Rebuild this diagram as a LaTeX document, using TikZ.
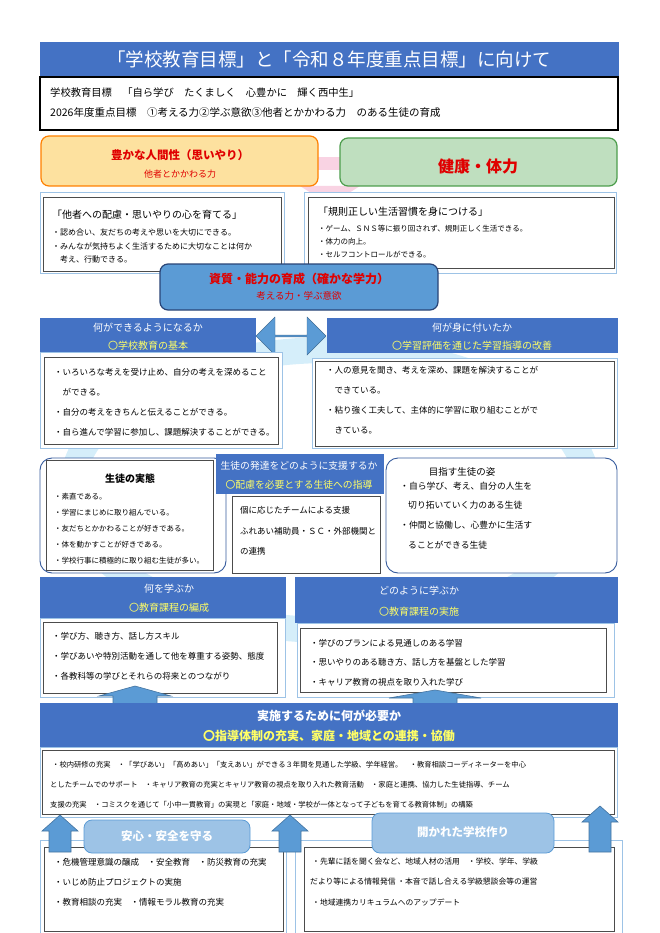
\documentclass[tikz,border=0pt]{standalone}
\usepackage{fontspec}
\setmainfont{Noto Sans CJK JP}
\usetikzlibrary{shapes.arrows}
\definecolor{hdrblue}{HTML}{4472C4}
\definecolor{midblue}{HTML}{5B9BD5}
\definecolor{paleblue}{HTML}{9DC3E6}
\definecolor{ringblue}{HTML}{D5EEFA}
\definecolor{goalyel}{HTML}{FFFF66}
\definecolor{redtxt}{HTML}{E00000}
\definecolor{pinkband}{HTML}{F9D3E3}
\tikzset{
  hdr/.style={fill=hdrblue, draw=hdrblue},
  frame/.style={draw=paleblue, line width=0.8pt, fill=white},
  inbox/.style={draw=black!70, line width=0.6pt, fill=white},
  line/.style={anchor=west, inner sep=0pt, font=\fontsize{#1}{#1}\selectfont},
  line/.default=8,
  wt/.style={text=white, inner sep=0pt, font=\fontsize{#1}{#1}\selectfont},
  yt/.style={text=goalyel, inner sep=0pt, font=\fontsize{#1}{#1}\selectfont},
  blockarrow/.style={fill=midblue, draw=midblue!75!black, line width=0.6pt},
}
% block arrow pointing up: centre x, tip y, base y, half head, half shaft, head length
\newcommand\upblock[6]{%
  \draw[blockarrow] (#1-#5,#3) -- (#1-#5,#2+#6) -- (#1-#4,#2+#6) -- (#1,#2)
    -- (#1+#4,#2+#6) -- (#1+#5,#2+#6) -- (#1+#5,#3) -- cycle;}
\begin{document}
\begin{tikzpicture}[x=1pt, y=-1pt]
\useasboundingbox (0,0) rectangle (660,933);
% background ring and bands
\draw[ringblue, line width=26pt] (330,490) ellipse (258 and 140);
\fill[pinkband] (280,157) rectangle (380,170);
\fill[pinkband] (300,186) -- (330,205) -- (360,186) -- cycle;
% title
\node[hdr, minimum width=578pt, minimum height=34pt, anchor=north west] (title) at (40,42) {};
\node[wt=18.5] (titletxt) at (329,59) {「学校教育目標」と「令和８年度重点目標」に向けて};
\draw[line width=1.6pt] (40,77) rectangle (618,130);
\node[line=10.3] (goal1) at (50,93) {学校教育目標\quad 「自ら学び\quad たくましく\quad 心豊かに\quad 輝く西中生」};
\node[line=10.5] (goal2) at (50,113) {2026年度重点目標\quad ①考える力②学ぶ意欲③他者とかかわる力\quad のある生徒の育成};
% two pillars
\draw[rounded corners=8pt, fill=yellow!40!orange!35, draw=orange, line width=1.2pt] (41,136) rectangle (318,186);
\node[text=redtxt, font=\fontsize{11.5}{11.5}\selectfont\bfseries] (humtitle) at (180,155) {豊かな人間性（思いやり）};
\node[text=redtxt, font=\fontsize{9}{9}\selectfont] (humsub) at (180,174) {他者とかかわる力};
\draw[rounded corners=8pt, fill=green!50!black!25, draw=green!45!black!70, line width=1.2pt] (340,138) rectangle (617,186);
\node[text=redtxt, font=\fontsize{16}{16}\selectfont\bfseries] (health) at (478,166) {健康・体力};
\draw[frame] (40,192) rectangle (284,273);
\draw[inbox] (43,197) rectangle (281,271);
\node[line=10] (humhead) at (52,215) {「他者への配慮・思いやりの心を育てる」};
\node[line=8] (hum1) at (52,232) {・認め合い、友だちの考えや思いを大切にできる。};
\node[line=8] (hum2) at (52,246) {・みんなが気持ちよく生活するために大切なことは何か};
\node[line=8] (hum3) at (52,259) {\quad 考え、行動できる。};
\draw[frame] (304,192) rectangle (616,273);
\draw[inbox] (308,197) rectangle (614,268);
\node[line=10] (heahead) at (318,212) {「規則正しい生活習慣を身につける」};
\node[line=7.5] (hea1) at (318,229) {・ゲーム、ＳＮＳ等に振り回されず、規則正しく生活できる。};
\node[line=7.5] (hea2) at (318,242) {・体力の向上。};
\node[line=7.5] (hea3) at (318,255) {・セルフコントロールができる。};
% central ability
\draw[rounded corners=8pt, fill=midblue, draw=hdrblue!60!black, line width=1.2pt] (160,264) rectangle (438,310);
\node[text=redtxt, font=\fontsize{12}{12}\selectfont\bfseries] (abtitle) at (299,279) {資質・能力の育成（確かな学力）};
\node[text=redtxt, font=\fontsize{9.5}{9.5}\selectfont] (absub) at (299,296) {考える力・学ぶ意欲};
% can do / learned
\node[hdr, minimum width=215pt, minimum height=34pt, anchor=north west] (canhdr) at (40,318) {};
\node[wt=10] (cantxt) at (148,328) {何ができるようになるか};
\node[yt=10] (canyel) at (148,346) {〇学校教育の基本};
\node[hdr, minimum width=290pt, minimum height=34pt, anchor=north west] (gothdr) at (327,318) {};
\node[wt=10] (gottxt) at (472,328) {何が身に付いたか};
\node[yt=10] (gotyel) at (472,346) {〇学習評価を通じた学習指導の改善};
\node[double arrow, fill=midblue, draw=midblue!70!black, minimum height=70pt, minimum width=38pt,
  double arrow head extend=4pt, inner sep=0pt] (linkarrow) at (291,336) {};
\draw[frame] (40,352) rectangle (282,448);
\draw[inbox] (44,357) rectangle (278,444);
\node[line=8.5] (can1) at (54,372) {・いろいろな考えを受け止め、自分の考えを深めること};
\node[line=8.5] (can2) at (54,392) {\quad ができる。};
\node[line=8.5] (can3) at (54,412) {・自分の考えをきちんと伝えることができる。};
\node[line=8.5] (can4) at (54,432) {・自ら進んで学習に参加し、課題解決することができる。};
\draw[frame] (312,358) rectangle (617,448);
\draw[inbox] (315,361) rectangle (614,446);
\node[line=8.5] (got1) at (326,370) {・人の意見を聞き、考えを深め、課題を解決することが};
\node[line=8.5] (got2) at (326,390) {\quad できている。};
\node[line=8.5] (got3) at (326,410) {・粘り強く工夫して、主体的に学習に取り組むことがで};
\node[line=8.5] (got4) at (326,430) {\quad きている。};
% students
\draw[rounded corners=12pt, draw=hdrblue!80!black, line width=0.9pt, fill=white] (40,458) rectangle (226,573);
\draw[inbox] (46,460) rectangle (213,570);
\node[font=\fontsize{10}{10}\selectfont\bfseries] (realtitle) at (130,479) {生徒の実態};
\node[line=7.5] (real1) at (54,497) {・素直である。};
\node[line=7.5] (real2) at (54,513) {・学習にまじめに取り組んでいる。};
\node[line=7.5] (real3) at (54,529) {・友だちとかかわることが好きである。};
\node[line=7.5] (real4) at (54,545) {・体を動かすことが好きである。};
\node[line=7.5] (real5) at (54,561) {・学校行事に積極的に取り組む生徒が多い。};
\draw[rounded corners=12pt, draw=hdrblue!80!black, line width=0.9pt, fill=white] (386,458) rectangle (617,573);
\node[font=\fontsize{9.5}{9.5}\selectfont] (aimtitle) at (462,472) {目指す生徒の姿};
\node[line=8.8] (aim1) at (400,486) {・自ら学び、考え、自分の人生を};
\node[line=8.8] (aim2) at (408,505) {切り拓いていく力のある生徒};
\node[line=8.8] (aim3) at (400,525) {・仲間と協働し、心豊かに生活す};
\node[line=8.8] (aim4) at (408,545) {ることができる生徒};
\node[hdr, minimum width=167pt, minimum height=39pt, anchor=north west] (suphdr) at (216,454) {};
\node[wt=9.8] (suptxt) at (299,466) {生徒の発達をどのように支援するか};
\node[yt=9.8] (supyel) at (299,485) {〇配慮を必要とする生徒への指導};
\draw[inbox] (232,496) rectangle (380,573);
\node[line=8.5] (sup1) at (240,510) {個に応じたチームによる支援};
\node[line=8.5] (sup2) at (240,531) {ふれあい補助員・ＳＣ・外部機関と};
\node[line=8.5] (sup3) at (240,551) {の連携};
% what / how
\node[hdr, minimum width=245pt, minimum height=41pt, anchor=north west] (whathdr) at (40,577) {};
\node[wt=10] (whattxt) at (169,589) {何を学ぶか};
\node[yt=10] (whatyel) at (169,608) {〇教育課程の編成};
\draw[frame] (40,618) rectangle (285,697);
\draw[inbox] (43,622) rectangle (277,693);
\node[line=8.5] (what1) at (52,636) {・学び方、聴き方、話し方スキル};
\node[line=8.5] (what2) at (52,656) {・学びあいや特別活動を通して他を尊重する姿勢、態度};
\node[line=8.5] (what3) at (52,676) {・各教科等の学びとそれらの将来とのつながり};
\node[hdr, minimum width=322pt, minimum height=45pt, anchor=north west] (howhdr) at (295,577) {};
\node[wt=10] (howtxt) at (419,591) {どのように学ぶか};
\node[yt=10] (howyel) at (419,612) {〇教育課程の実施};
\draw[frame] (297,623) rectangle (614,697);
\draw[inbox] (300,628) rectangle (606,692);
\node[line=8.5] (how1) at (310,643) {・学びのプランによる見通しのある学習};
\node[line=8.5] (how2) at (310,662) {・思いやりのある聴き方、話し方を基盤とした学習};
\node[line=8.5] (how3) at (310,682) {・キャリア教育の視点を取り入れた学び};
\upblock{135}{686}{706}{36}{22}{10}
\upblock{435}{690}{706}{46}{22}{8}
% implementation
\node[hdr, minimum width=577pt, minimum height=44pt, anchor=north west] (implhdr) at (40,703) {};
\node[wt=12, font=\fontsize{12}{12}\selectfont\bfseries] (impltxt) at (329,716) {実施するために何が必要か};
\node[yt=12, font=\fontsize{12}{12}\selectfont\bfseries] (implyel) at (329,736) {〇指導体制の充実、家庭・地域との連携・協働};
\draw[frame] (40,747) rectangle (617,817);
\draw[inbox] (42,750) rectangle (614,814);
\node[line=7.3] (impl1) at (52,765) {・校内研修の充実\quad ・「学びあい」「高めあい」「支えあい」ができる３年間を見通した学級、学年経営。\quad ・教育相談コーディネーターを中心};
\node[line=7.3] (impl2) at (50,785) {としたチームでのサポート\quad ・キャリア教育の充実とキャリア教育の視点を取り入れた教育活動\quad ・家庭と連携、協力した生徒指導、チーム};
\node[line=7.3] (impl3) at (50,805) {支援の充実\quad ・コミスクを通じて「小中一貫教育」の実現と「家庭・地域・学校が一体となって子どもを育てる教育体制」の構築};
% bottom boxes
\draw[frame] (40,840) rectangle (286,933);
\draw[inbox] (44,847) rectangle (283,931);
\node[line=8.5] (safe1) at (54,862) {・危機管理意識の醸成\quad ・安全教育\quad ・防災教育の充実};
\node[line=8.5] (safe2) at (54,882) {・いじめ防止プロジェクトの実施};
\node[line=8.5] (safe3) at (54,902) {・教育相談の充実\quad ・情報モラル教育の充実};
\draw[frame] (295,840) rectangle (622,933);
\draw[inbox] (304,847) rectangle (614,931);
\node[line=7.8] (open1) at (312,862) {・先輩に話を聞く会など、地域人材の活用\quad ・学校、学年、学級};
\node[line=7.8] (open2) at (310,882) {だより等による情報発信\ ・本音で話し合える学級懇談会等の運営};
\node[line=7.8] (open3) at (312,902) {・地域連携カリキュラムへのアップデート};
\upblock{60}{815}{852}{18}{11}{16}
\upblock{290}{815}{852}{18}{11}{16}
\upblock{600}{806}{852}{18}{11}{16}
\draw[rounded corners=8pt, fill=paleblue, draw=midblue, line width=0.8pt] (84,820) rectangle (250,853);
\node[wt=11.5, font=\fontsize{11.5}{11.5}\selectfont\bfseries] (safetitle) at (167,836) {安心・安全を守る};
\draw[rounded corners=8pt, fill=paleblue, draw=midblue, line width=0.8pt] (372,813) rectangle (554,853);
\node[wt=11.5, font=\fontsize{11.5}{11.5}\selectfont\bfseries] (opentitle) at (463,832) {開かれた学校作り};
\end{tikzpicture}
\end{document}
